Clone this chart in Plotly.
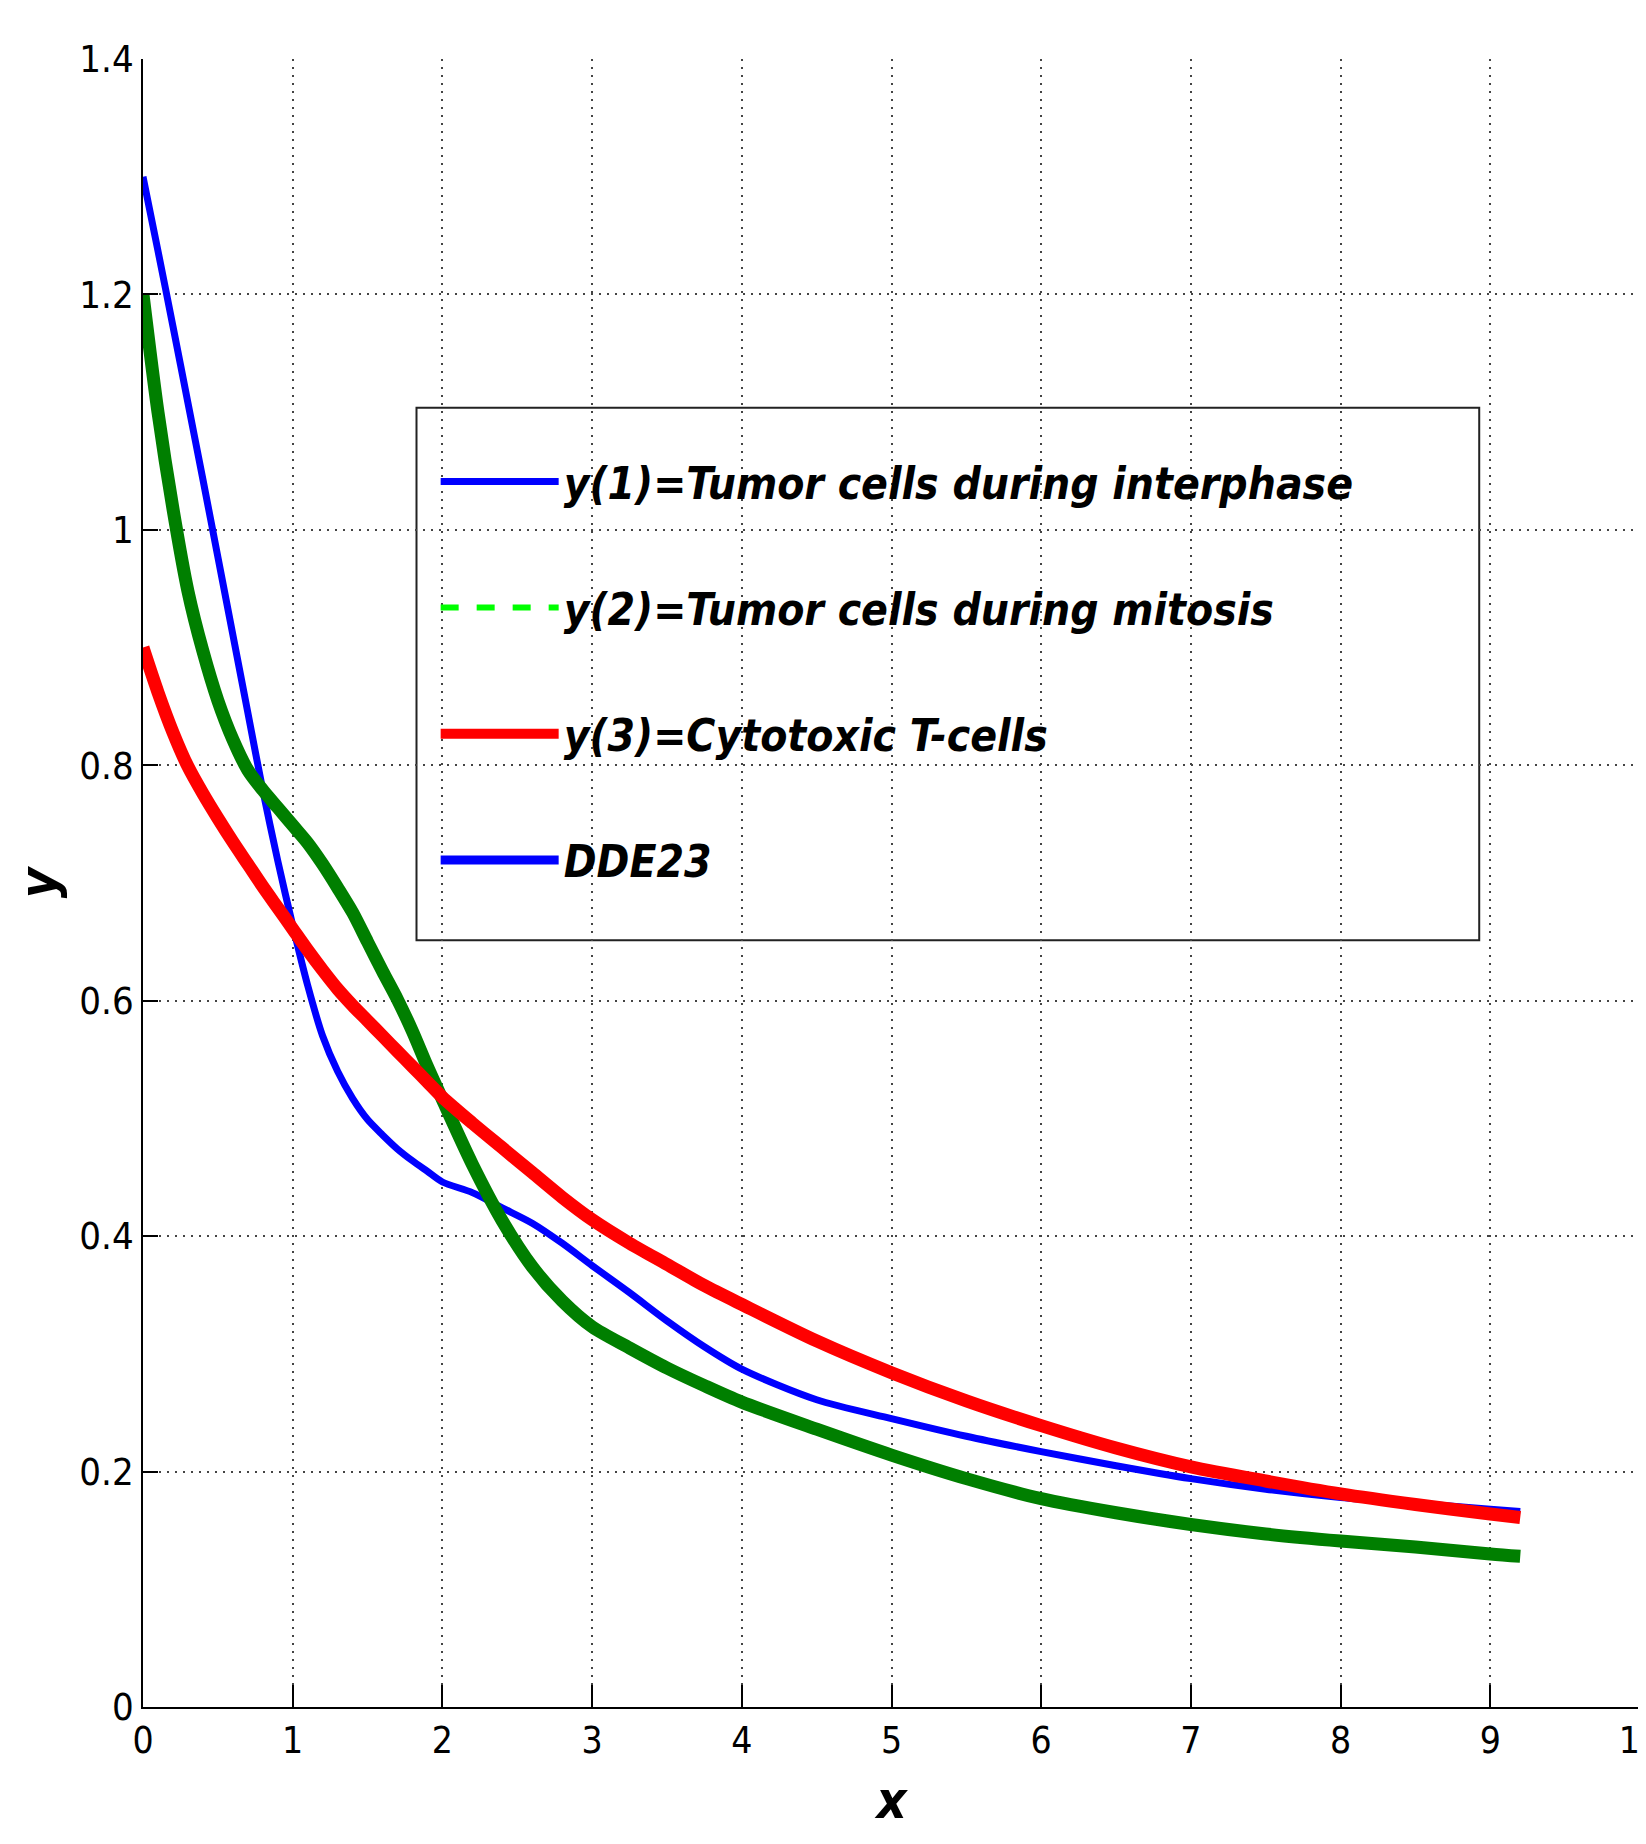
import plotly.graph_objects as go

# ---- data ----
t = [0, 0.1, 0.2, 0.3, 0.4, 0.5, 0.6, 0.7, 0.8, 0.9, 1.0, 1.1, 1.2, 1.3, 1.4,
     1.5, 1.6, 1.7, 1.8, 1.9, 2.0, 2.2, 2.4, 2.6, 2.8, 3.0, 3.25, 3.5, 3.75,
     4.0, 4.5, 5.0, 5.5, 6.0, 6.5, 7.0, 7.5, 8.0, 8.5, 9.0, 9.2]

y1_interphase = [1.30, 1.237, 1.173, 1.108, 1.043, 0.977, 0.911, 0.845, 0.779,
                 0.719, 0.664, 0.613, 0.570, 0.540, 0.517, 0.499, 0.486,
                 0.474, 0.464, 0.455, 0.446, 0.437, 0.424, 0.411, 0.394,
                 0.375, 0.352, 0.328, 0.306, 0.287, 0.261, 0.245, 0.230,
                 0.217, 0.205, 0.194, 0.185, 0.178, 0.173, 0.168, 0.166]

y2_mitosis = [1.20, 1.10, 1.018, 0.948, 0.897, 0.855, 0.822, 0.796, 0.779,
              0.764, 0.749, 0.734, 0.716, 0.696, 0.675, 0.650, 0.625, 0.601,
              0.574, 0.544, 0.516, 0.461, 0.413, 0.374, 0.345, 0.323, 0.305,
              0.288, 0.273, 0.259, 0.236, 0.214, 0.194, 0.177, 0.165, 0.155,
              0.147, 0.141, 0.136, 0.130, 0.128]

y3_tcells = [0.90, 0.862, 0.828, 0.799, 0.776, 0.755, 0.735, 0.716, 0.697,
             0.679, 0.661, 0.643, 0.626, 0.610, 0.596, 0.583, 0.570, 0.557,
             0.544, 0.531, 0.518, 0.496, 0.475, 0.454, 0.433, 0.414, 0.394,
             0.376, 0.358, 0.342, 0.311, 0.284, 0.260, 0.239, 0.220, 0.204,
             0.192, 0.181, 0.172, 0.164, 0.161]

names = ["y(1)=Tumor cells during interphase",
         "y(2)=Tumor cells during mitosis",
         "y(3)=Cytotoxic T-cells",
         "DDE23"]

x_ticks = [0, 1, 2, 3, 4, 5, 6, 7, 8, 9, 10]
y_ticks = [0, 0.2, 0.4, 0.6, 0.8, 1.0, 1.2, 1.4]
y_ticklabels = ["0", "0.2", "0.4", "0.6", "0.8", "1", "1.2", "1.4"]

FONT = "Liberation Sans Narrow, DejaVu Sans Condensed, Arial Narrow, Arial, sans-serif"
SM = 0.8

fig = go.Figure()
fig.add_trace(go.Scatter(x=t, y=y1_interphase, mode="lines", name=names[0],
                         line=dict(color="#0000ff", width=7, shape="spline", smoothing=SM),
                         legendrank=1, legendgroup="a"))
fig.add_trace(go.Scatter(x=t, y=y2_mitosis, mode="lines", name=names[1],
                         line=dict(color="#00ff00", width=6, dash="dash",
                                   shape="spline", smoothing=SM),
                         legendrank=2, legendgroup="b"))
fig.add_trace(go.Scatter(x=t, y=y2_mitosis, mode="lines", name=names[1],
                         line=dict(color="#007f00", width=13, shape="spline", smoothing=SM),
                         showlegend=False, legendgroup="b"))
fig.add_trace(go.Scatter(x=t, y=y3_tcells, mode="lines", name=names[2],
                         line=dict(color="#ff0000", width=13, shape="spline", smoothing=SM),
                         legendrank=3, legendgroup="c"))
fig.add_trace(go.Scatter(x=[None], y=[None], mode="lines", name=names[3],
                         line=dict(color="#0000ff", width=9), legendrank=4,
                         legendgroup="d"))

# legend frame (MATLAB-style box, larger than its entries)
fig.add_shape(type="rect", xref="paper", yref="paper",
              x0=0.1827, x1=0.8926, y0=0.4652, y1=0.7884,
              line=dict(color="#222", width=2), fillcolor="white", layer="below")

# page body has an 8px margin, so the figure is 8px smaller and margins shifted
fig.update_layout(
    width=1638, height=1836,
    margin=dict(l=135, r=6, t=51, b=137),
    paper_bgcolor="white", plot_bgcolor="white",
    font=dict(family=FONT, color="black"),
    showlegend=True,
    legend=dict(
        x=0.1955, y=0.765, xanchor="left", yanchor="top",
        bgcolor="rgba(0,0,0,0)", borderwidth=0,
        font=dict(family=FONT, size=44, weight="bold", style="italic", color="black"),
        traceorder="grouped", tracegroupgap=66,
        itemwidth=118,
    ),
    xaxis=dict(
        range=[0, 10], tickvals=x_ticks, ticks="inside", ticklen=22,
        tickwidth=1.5, tickcolor="black", showline=True, linecolor="black",
        linewidth=1.5, mirror=False, zeroline=False, automargin=False,
        showgrid=True, gridcolor="#444", gridwidth=2, griddash="2px,6px",
        tickfont=dict(family=FONT, size=37), ticklabeloverflow="allow",
        title=dict(text="x", font=dict(family=FONT, size=52, weight="bold", style="italic"),
                   standoff=20),
    ),
    yaxis=dict(
        range=[0, 1.4], tickvals=y_ticks, ticktext=y_ticklabels, ticks="inside",
        ticklen=15, tickwidth=1.5, tickcolor="black", showline=True,
        linecolor="black", linewidth=1.5, mirror=False, zeroline=False,
        automargin=False,
        showgrid=True, gridcolor="#444", gridwidth=2, griddash="2px,6px",
        tickfont=dict(family=FONT, size=38), ticklabeloverflow="allow",
        title=dict(text="y", font=dict(family=FONT, size=52, weight="bold", style="italic"),
                   standoff=16),
    ),
)

fig.write_html("out.html")
